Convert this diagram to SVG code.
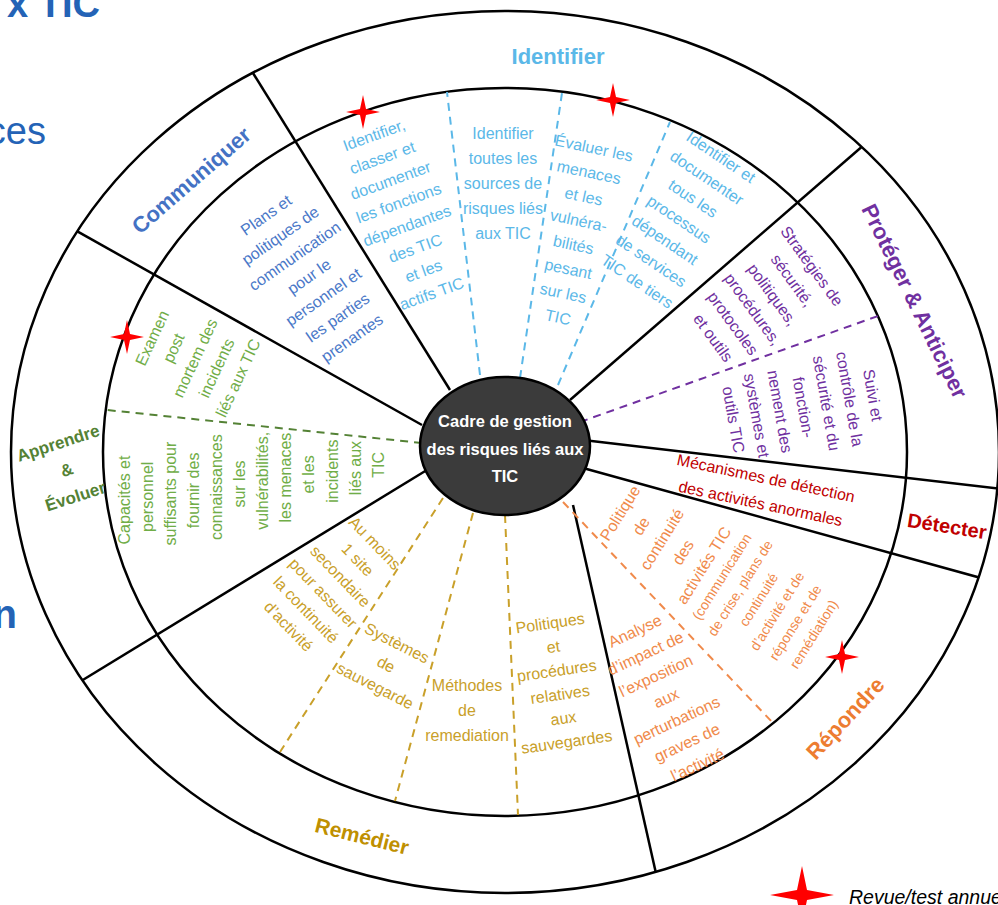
<svg xmlns="http://www.w3.org/2000/svg" width="998" height="905" viewBox="0 0 998 905">
<style>
text{font-family:"Liberation Sans",Arial,sans-serif}
.ring{fill:none;stroke:#000;stroke-width:2.5}
.rad{stroke:#000;stroke-width:2.5;fill:none}
.dash{stroke-width:2;stroke-dasharray:8 6;fill:none}
.t{font-size:16px;text-anchor:middle}
.lbl{font-weight:bold;text-anchor:middle}
.blue{fill:#5bb8e8}.cblue{fill:#4a78c8}.purple{fill:#7030a0}.red{fill:#c00000}
.orange{fill:#f08a4b}.gold{fill:#c9a02a}.green{fill:#70ad47}
.title{fill:#2463b6}
</style>
<defs>
<clipPath id="outerClip"><ellipse cx="505" cy="452" rx="494" ry="441"/></clipPath>
<path id="star" d="M0,-17 L3,-3 L17,0 L3,3 L0,17 L-3,3 L-17,0 L-3,-3 Z" fill="#ff0000"/>
</defs>
<rect width="998" height="905" fill="#fff"/>

<g id="title">
<text x="100" y="17" class="title" font-size="38" font-weight="bold" text-anchor="end">x TIC</text>
<text x="46" y="144" class="title" font-size="38" text-anchor="end">ces</text>
<text x="17" y="628" class="title" font-size="40" font-weight="bold" text-anchor="end">n</text>
</g>

<g id="rings">
<ellipse class="ring" cx="505" cy="452" rx="494" ry="441"/>
<ellipse class="ring" cx="505" cy="452" rx="402" ry="364"/>
</g>

<g id="connectors">
<g clip-path="url(#outerClip)">
<line class="rad" x1="450" y1="390" x2="238" y2="49"/>
<line class="rad" x1="422" y1="425" x2="50" y2="216"/>
<line class="rad" x1="570" y1="400" x2="880" y2="131"/>
<line class="rad" x1="583" y1="440" x2="1010" y2="490"/>
<line class="rad" x1="583" y1="468" x2="1010" y2="586"/>
<line class="rad" x1="573" y1="505" x2="662" y2="900"/>
<line class="rad" x1="440" y1="462" x2="50" y2="700"/>
</g>
<line class="dash" stroke="#5bb8e8" x1="480" y1="375" x2="447" y2="92"/>
<line class="dash" stroke="#5bb8e8" x1="520" y1="378" x2="562" y2="93"/>
<line class="dash" stroke="#5bb8e8" x1="558" y1="385" x2="670" y2="122"/>
<line class="dash" stroke="#7030a0" x1="580" y1="422" x2="878" y2="316"/>
<line class="dash" stroke="#548235" x1="422" y1="443" x2="107" y2="410"/>
<line class="dash" stroke="#f08a4b" x1="563" y1="502" x2="773" y2="723"/>
<line class="dash" stroke="#c9a02a" x1="443" y1="498" x2="280" y2="752"/>
<line class="dash" stroke="#c9a02a" x1="473" y1="513" x2="395" y2="801"/>
<line class="dash" stroke="#c9a02a" x1="505" y1="515" x2="518" y2="815"/>
</g>

<g id="center">
<ellipse cx="505" cy="446" rx="85" ry="69" fill="#3b3b3b" stroke="#000" stroke-width="2.5"/>
<text class="lbl" fill="#fff" font-size="16.5"><tspan x="505" y="427">Cadre de gestion</tspan><tspan x="505" y="455">des risques liés aux</tspan><tspan x="505" y="482">TIC</tspan></text>
</g>

<g id="identifier">
<text class="lbl blue" x="558" y="64" font-size="22">Identifier</text>
<text class="t blue" transform="translate(374,135) rotate(-20)"><tspan x="0" y="5.6">Identifier,</tspan><tspan x="0" dy="24.1">classer et</tspan><tspan x="0" dy="24.1">documenter</tspan><tspan x="0" dy="24.1">les fonctions</tspan><tspan x="0" dy="24.1">dépendantes</tspan><tspan x="0" dy="24.1">des TIC</tspan><tspan x="0" dy="24.1">et les</tspan><tspan x="0" dy="24.1">actifs TIC</tspan></text>
<text class="t blue"><tspan x="503" y="138.6">Identifier</tspan><tspan x="503" dy="25">toutes les</tspan><tspan x="503" dy="25">sources de</tspan><tspan x="503" dy="25">risques liés</tspan><tspan x="503" dy="25">aux TIC</tspan></text>
<text class="t blue" transform="translate(594,148) rotate(12)"><tspan x="0" y="5.6">Évaluer les</tspan><tspan x="0" dy="24.7">menaces</tspan><tspan x="0" dy="24.7">et les</tspan><tspan x="0" dy="24.7">vulnéra-</tspan><tspan x="0" dy="24.7">bilités</tspan><tspan x="0" dy="24.7">pesant</tspan><tspan x="0" dy="24.7">sur les</tspan><tspan x="0" dy="24.7">TIC</tspan></text>
<text class="t blue" transform="translate(721,157) rotate(34)"><tspan x="0" y="5.6">Identifier et</tspan><tspan x="0" dy="25">documenter</tspan><tspan x="0" dy="25">tous les</tspan><tspan x="0" dy="25">processus</tspan><tspan x="0" dy="25">dépendant</tspan><tspan x="0" dy="25">de services</tspan><tspan x="0" dy="25">TIC de tiers</tspan></text>
</g>

<g id="communiquer">
<text class="lbl" fill="#4472c4" font-size="22" transform="translate(191,180) rotate(-41)" y="8">Communiquer</text>
<text class="t cblue" transform="translate(266,215) rotate(-35)"><tspan x="0" y="5.6">Plans et</tspan><tspan x="0" dy="25">politiques de</tspan><tspan x="0" dy="25">communication</tspan><tspan x="0" dy="25">pour le</tspan><tspan x="0" dy="25">personnel et</tspan><tspan x="0" dy="25">les parties</tspan><tspan x="0" dy="25">prenantes</tspan></text>
</g>

<g id="proteger">
<text class="lbl purple" font-size="22" transform="translate(915,301) rotate(64)" y="8">Protéger &amp; Anticiper</text>
<text class="t purple" transform="translate(812,266) rotate(54)"><tspan x="0" y="5.6">Stratégies de</tspan><tspan x="0" dy="24.4">sécurité,</tspan><tspan x="0" dy="24.4">politiques,</tspan><tspan x="0" dy="24.4">procédures,</tspan><tspan x="0" dy="24.4">protocoles</tspan><tspan x="0" dy="24.4">et outils</tspan></text>
<text class="t purple" transform="translate(873,395) rotate(80)"><tspan x="0" y="5.6">Suivi et</tspan><tspan x="0" dy="23.6">contrôle de la</tspan><tspan x="0" dy="23.6">sécurité et du</tspan><tspan x="0" dy="23.6">fonction-</tspan><tspan x="0" dy="23.6">nement des</tspan><tspan x="0" dy="23.6">systèmes et</tspan><tspan x="0" dy="23.6">outils TIC</tspan></text>
</g>

<g id="detecter">
<text class="lbl red" font-size="20" transform="translate(947,526) rotate(9)" y="7">Détecter</text>
<text class="t red" transform="translate(766,478) rotate(12)"><tspan x="0" y="5.6">Mécanismes de détection</tspan><tspan x="0" dy="26">des activités anormales</tspan></text>
</g>

<g id="repondre">
<text class="lbl" fill="#ed7d31" font-size="22" transform="translate(845,718) rotate(-47)" y="8">Répondre</text>
<text class="t orange" transform="translate(620,513) rotate(-58)"><tspan x="0" y="5.6">Politique</tspan><tspan x="0" dy="24.7">de</tspan><tspan x="0" dy="24.7">continuité</tspan><tspan x="0" dy="24.7">des</tspan><tspan x="0" dy="24.7">activités TIC</tspan><tspan x="0" dy="20.5" font-size="14">(communication</tspan><tspan x="0" dy="21.7" font-size="14">de crise, plans de</tspan><tspan x="0" dy="21.7" font-size="14">continuité</tspan><tspan x="0" dy="21.7" font-size="14">d’activité et de</tspan><tspan x="0" dy="21.7" font-size="14">réponse et de</tspan><tspan x="0" dy="21.7" font-size="14">remédiation)</tspan></text>
<text class="t orange" transform="translate(635,631) rotate(-25)"><tspan x="0" y="5.6">Analyse</tspan><tspan x="0" dy="24.6">d’impact de</tspan><tspan x="0" dy="24.6">l’exposition</tspan><tspan x="0" dy="24.6">aux</tspan><tspan x="0" dy="24.6">perturbations</tspan><tspan x="0" dy="24.6">graves de</tspan><tspan x="0" dy="24.6">l’activité</tspan></text>
</g>

<g id="remedier">
<text class="lbl" fill="#bf9000" font-size="21" transform="translate(362,836) rotate(14)" y="7.5">Remédier</text>
<text class="t gold" transform="translate(375,543) rotate(46)"><tspan x="0" y="5.6">Au moins</tspan><tspan x="0" dy="24">1 site</tspan><tspan x="0" dy="24">secondaire</tspan><tspan x="0" dy="24">pour assurer</tspan><tspan x="0" dy="24">la continuité</tspan><tspan x="0" dy="24">d’activité</tspan></text>
<text class="t gold" transform="translate(397,643) rotate(27)"><tspan x="0" y="5.6">Systèmes</tspan><tspan x="0" dy="24">de</tspan><tspan x="0" dy="24">sauvegarde</tspan></text>
<text class="t gold"><tspan x="467" y="690.6">Méthodes</tspan><tspan x="467" dy="25">de</tspan><tspan x="467" dy="25">remediation</tspan></text>
<text class="t gold" transform="translate(550,623) rotate(-8)"><tspan x="0" y="5.6">Politiques</tspan><tspan x="0" dy="24">et</tspan><tspan x="0" dy="24">procédures</tspan><tspan x="0" dy="24">relatives</tspan><tspan x="0" dy="24">aux</tspan><tspan x="0" dy="24">sauvegardes</tspan></text>
</g>

<g id="apprendre">
<text class="lbl" fill="#548235" font-size="17" transform="translate(58,443) rotate(-18)"><tspan x="0" y="6">Apprendre</tspan><tspan x="0" dy="28">&amp;</tspan><tspan x="0" dy="28">Évoluer</tspan></text>
<text class="t green" transform="translate(152,338) rotate(-65)"><tspan x="0" y="5.6">Examen</tspan><tspan x="0" dy="23.7">post</tspan><tspan x="0" dy="23.7">mortem des</tspan><tspan x="0" dy="23.7">incidents</tspan><tspan x="0" dy="23.7">liés aux TIC</tspan></text>
<text class="t green" transform="translate(124,500) rotate(-90)"><tspan x="0" y="5.6">Capacités et</tspan><tspan x="3.2" y="28.7">personnel</tspan><tspan x="6.4" y="51.8">suffisants pour</tspan><tspan x="9.6" y="74.9">fournir des</tspan><tspan x="12.8" y="98">connaissances</tspan><tspan x="16" y="121.1">sur les</tspan><tspan x="19.2" y="144.2">vulnérabilités,</tspan><tspan x="22.4" y="167.3">les menaces</tspan><tspan x="25.6" y="190.4">et les</tspan><tspan x="28.8" y="213.5">incidents</tspan><tspan x="32" y="236.6">liés aux</tspan><tspan x="35.2" y="259.7">TIC</tspan></text>
</g>

<g id="stars">
<use href="#star" x="363" y="112"/>
<use href="#star" x="613" y="100"/>
<use href="#star" x="127" y="337"/>
<use href="#star" x="842" y="657"/>
</g>

<g id="legend">
<path d="M802,866 L807,890 L834,895 L807,900 L802,924 L797,900 L770,895 L797,890 Z" fill="#ff0000"/>
<text x="849" y="904" font-size="19.5" font-style="italic" fill="#000">Revue/test annuel</text>
</g>
</svg>
